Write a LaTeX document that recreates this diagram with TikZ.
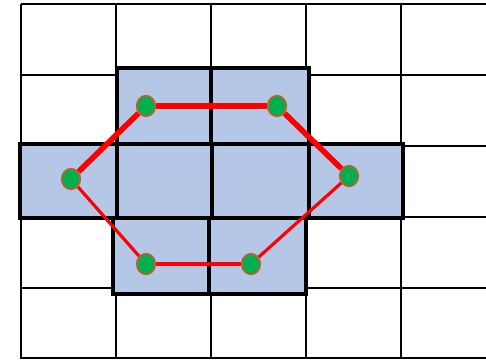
\documentclass[tikz,border=0pt]{standalone}
\usepackage{tikz}
\usetikzlibrary{positioning, shapes.geometric}

\definecolor{cellblue}{HTML}{B4C7E7}
\definecolor{sitegreen}{HTML}{00B050}
\definecolor{siterim}{HTML}{B5652A}

\begin{document}
\begin{tikzpicture}[
  x=0.02cm,
  y=-0.02cm,
  gridline/.style={
    draw=black,
    line width=1.1pt
  },
  cell/.style={
    draw=black,
    fill=cellblue,
    line width=2.8pt
  },
  site/.style={
    ellipse,
    draw=siterim,
    fill=sitegreen,
    line width=1pt,
    minimum width=0.37cm,
    minimum height=0.41cm,
    inner sep=0pt
  },
  bond/.style={
    red,
    line width=3.2pt
  },
  weakbond/.style={
    red,
    line width=1.8pt
  }
]

\useasboundingbox (0,0) rectangle (486,359);

% Background grid
\foreach \x in {21,116,211,306,401}
  \draw[gridline] (\x,4) -- (\x,359);
\foreach \y in {4,75,146,217,288,358}
  \draw[gridline] (21,\y) -- (486,\y);

% Shaded cells
\draw[cell] (117,68) rectangle (211,144);
\draw[cell] (211,68) rectangle (309,144);
\draw[cell] (20,144) rectangle (117,218);
\draw[cell] (117,144) rectangle (212,218);
\draw[cell] (212,144) rectangle (309,218);
\draw[cell] (309,144) rectangle (403,218);
\draw[cell] (113,218) rectangle (209,294);
\draw[cell] (209,218) rectangle (306,294);

% Sites
\node[site] (ul) at (146,106) {};
\node[site] (ur) at (277,106) {};
\node[site] (ml) at (71,179) {};
\node[site] (mr) at (349,176) {};
\node[site] (ll) at (146,264) {};
\node[site] (lr) at (251,264) {};

% Bonds
\draw[bond] (ul) -- (ur);
\draw[bond] (ul) -- (ml);
\draw[bond] (ur) -- (mr);
\draw[weakbond] (ml) -- (ll);
\draw[weakbond] (ll) -- (lr);
\draw[weakbond] (lr) -- (mr);

\end{tikzpicture}
\end{document}
